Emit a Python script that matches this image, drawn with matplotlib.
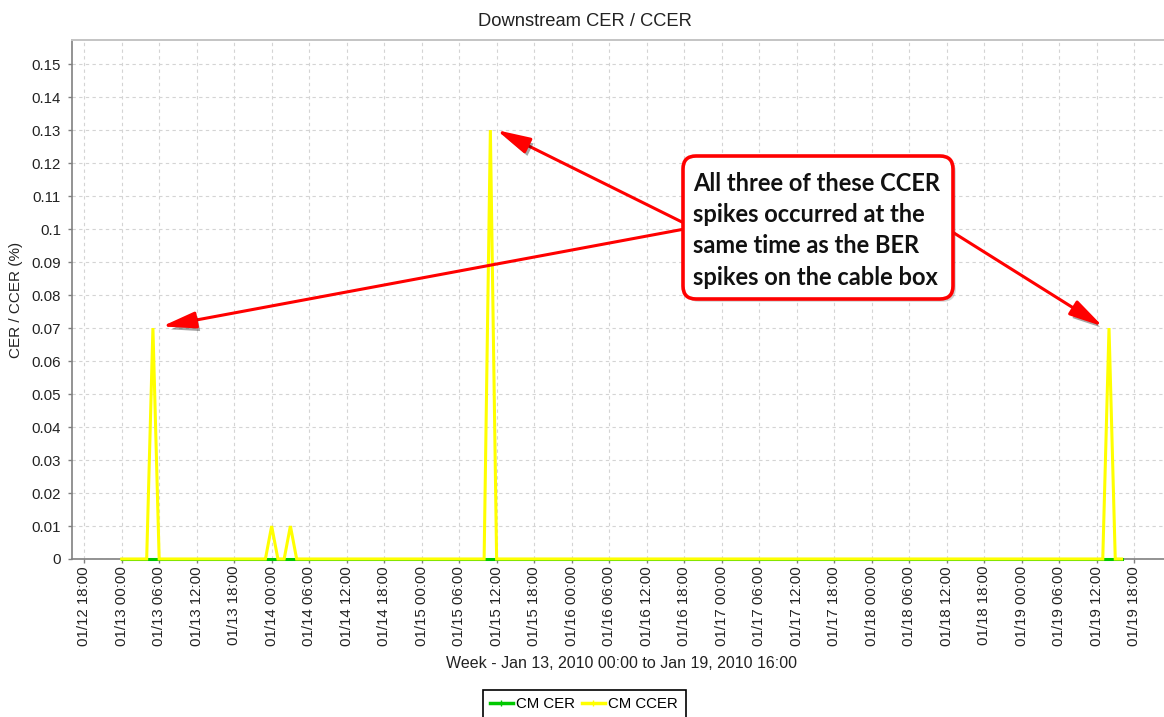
import matplotlib
matplotlib.use("Agg")
import matplotlib.pyplot as plt
import matplotlib.dates as mdates
import matplotlib.patheffects as pe
from matplotlib.patches import FancyBboxPatch
from matplotlib.lines import Line2D
from matplotlib.transforms import IdentityTransform
import pandas as pd

# ---------------- data ----------------
title = "Downstream CER / CCER"
x_label = "Week - Jan 13, 2010 00:00 to Jan 19, 2010 16:00"
y_label = "CER / CCER (%)"
series_names = ["CM CER", "CM CCER"]
series_colors = ["#00c800", "#ffff00"]

sample_start = "2010-01-13 00:00"
sample_end = "2010-01-19 16:00"
sample_step = "1h"

# CM CER stays at 0 for the whole week
cer_level = 0.0
# CM CCER is 0 except for these samples
ccer_spike_times = ["2010-01-13 05:00", "2010-01-14 00:00", "2010-01-14 03:00",
                    "2010-01-15 11:00", "2010-01-19 14:00"]
ccer_spike_values = [0.07, 0.01, 0.01, 0.13, 0.07]

y_ticks = [0, 0.01, 0.02, 0.03, 0.04, 0.05, 0.06, 0.07, 0.08, 0.09, 0.10,
           0.11, 0.12, 0.13, 0.14, 0.15]
x_tick_start = "2010-01-12 18:00"
x_tick_end = "2010-01-19 18:00"
x_tick_step = "6h"

annotation_lines = ["All three of these CCER",
                    "spikes occurred at the",
                    "same time as the BER",
                    "spikes on the cable box"]
# arrow tips (time, value) pointing at the three big spikes
arrow_tips = [("2010-01-13 06:27", 0.0705),
              ("2010-01-15 12:00", 0.1300),
              ("2010-01-19 13:00", 0.0705)]

# ---------------- build series ----------------
times = pd.date_range(sample_start, sample_end, freq=sample_step)
cer = pd.Series(cer_level, index=times)
ccer = pd.Series(0.0, index=times)
ccer.loc[pd.to_datetime(ccer_spike_times)] = ccer_spike_values

# ---------------- figure ----------------
W, H = 1164, 717
plt.rcParams["font.family"] = ["Liberation Sans", "DejaVu Sans"]
fig = plt.figure(figsize=(W / 100, H / 100), dpi=100)
ax = fig.add_axes([72 / W, 158 / H, (W - 72) / W, 519 / H])

ax.plot(times, cer, color=series_colors[0], lw=2.2, zorder=3, clip_on=False,
        solid_joinstyle="miter")
ax.plot(times, ccer, color=series_colors[1], lw=2.2, zorder=4, clip_on=False,
        solid_joinstyle="miter")

ax.set_ylim(0, 0.1573)
ax.set_yticks(y_ticks)
ax.set_yticklabels([f"{v:g}" for v in y_ticks])

xticks = pd.date_range(x_tick_start, x_tick_end, freq=x_tick_step)
ax.set_xlim(mdates.date2num(pd.Timestamp("2010-01-12 16:03")),
            mdates.date2num(pd.Timestamp("2010-01-19 22:48")))
ax.set_xticks(mdates.date2num(xticks))
ax.set_xticklabels([t.strftime("%m/%d %H:%M") for t in xticks], rotation=90)

ax.grid(True, color="#d4d4d4", linestyle=(0, (3, 3)), lw=0.8, zorder=0)
ax.set_axisbelow(True)

ax.tick_params(axis="both", direction="out", length=3, width=1,
               color="#808080", labelsize=10.8, labelcolor="#222222")
ax.tick_params(axis="x", pad=2)
ax.tick_params(axis="y", pad=5)

for side in ["left", "bottom"]:
    ax.spines[side].set_color("#808080")
    ax.spines[side].set_linewidth(1.2)
ax.spines["top"].set_color("#c4c4c4")
ax.spines["top"].set_linewidth(1.4)
ax.spines["right"].set_visible(False)

ax.set_xlabel(x_label, fontsize=11.5, color="#222222")
ax.xaxis.set_label_coords((622 - 72) / 1092, -(663 - 559) / 519)
ax.xaxis.label.set_va("center")
ax.set_ylabel(y_label, fontsize=11, color="#222222")
ax.yaxis.set_label_coords(-(72 - 16) / 1092, 0.5)
ax.yaxis.label.set_va("center")

fig.text(585 / W, (H - 21) / H, title, ha="center", va="center",
         fontsize=13.2, color="#222222")

# legend
handles = [Line2D([], [], color=c, lw=2.5, marker="|", markersize=4,
                  markeredgewidth=1) for c in series_colors]
leg = fig.legend(handles, series_names, loc="upper center",
                 bbox_to_anchor=(584 / W, 27 / H), ncol=2, frameon=True,
                 fancybox=False, edgecolor="black", framealpha=1,
                 fontsize=10.8, handlelength=1.5, handletextpad=0.25,
                 columnspacing=0.45, borderpad=0.5, borderaxespad=0)
leg.get_frame().set_linewidth(1.2)

# arrows (behind the box)
shadow = [pe.SimplePatchShadow(offset=(2, -3), shadow_rgbFace="black", alpha=0.35),
          pe.Normal()]
arrow_starts = [(690, 228), (690, 226), (946, 228)]
for (tt, tv), (sx, sy) in zip(arrow_tips, arrow_starts):
    ax.annotate("", xy=(mdates.date2num(pd.Timestamp(tt)), tv), xycoords="data",
                xytext=(sx, H - sy), textcoords="figure pixels",
                arrowprops=dict(arrowstyle="-|>,head_length=1.7,head_width=0.42",
                                mutation_scale=12, color="#ff0000", lw=2.2,
                                shrinkA=0, shrinkB=0, path_effects=shadow),
                zorder=6)

# callout box
box = FancyBboxPatch((683, H - 299), 270, 143,
                     boxstyle="round,pad=0,rounding_size=13",
                     transform=IdentityTransform(), fc="white", ec="#ff0000",
                     lw=2.6, zorder=5,
                     path_effects=[pe.SimplePatchShadow(offset=(2, -2), alpha=0.25),
                                   pe.Normal()])
fig.add_artist(box)

baselines = [191, 222, 253, 285]
ann_texts = []
for line, b in zip(annotation_lines, baselines):
    t = fig.text(693, H - b, line, transform=IdentityTransform(), ha="left",
                 va="baseline", fontsize=15, fontweight="bold",
                 family=["Lato", "DejaVu Sans"], color="#111111", zorder=7)
    ann_texts.append(t)

fig.canvas.draw()
renderer = fig.canvas.get_renderer()
widest = max(t.get_window_extent(renderer).width for t in ann_texts)
scale = 248 / widest
for t in ann_texts:
    t.set_fontsize(15 * scale)

fig.savefig("out.png", dpi=100)
